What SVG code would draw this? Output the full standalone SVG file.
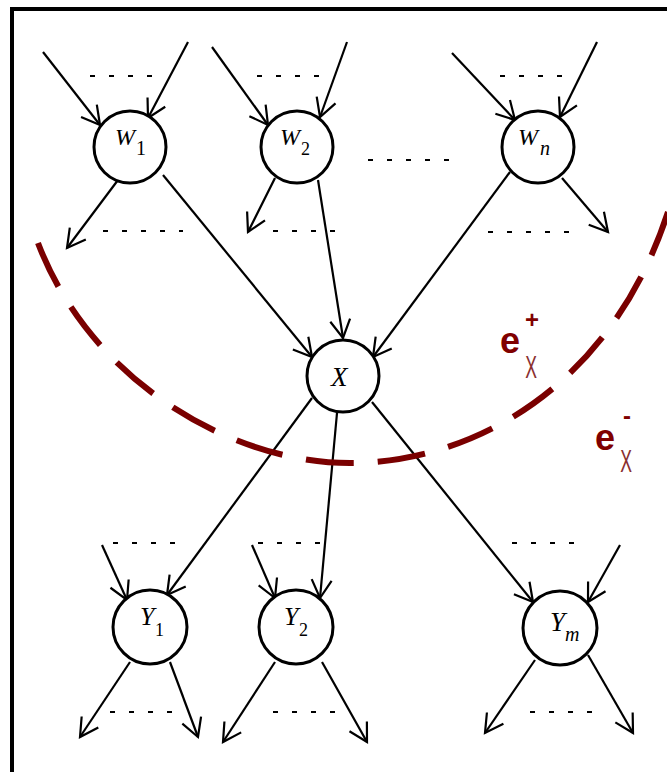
<svg xmlns="http://www.w3.org/2000/svg" width="667" height="772" viewBox="0 0 667 772">
<style>
.node circle{fill:#fff;stroke:#000;stroke-width:3}
.lbl{font-family:"Liberation Serif",serif;font-style:italic;fill:#000}
.sub{font-family:"Liberation Serif",serif;fill:#000}
.edge{stroke:#000;stroke-width:2.2;fill:none;marker-end:url(#arr)}
.dots{stroke:#000;stroke-width:2;stroke-dasharray:5 14;fill:none}
.e{font-family:"Liberation Sans",Arial,sans-serif;font-weight:bold;fill:#800000}
.ex{font-family:"Liberation Sans",Arial,sans-serif;fill:#8a3030}
</style>
<defs>
<marker id="arr" markerUnits="userSpaceOnUse" markerWidth="30" markerHeight="30" viewBox="-22 -15 30 30" refX="0" refY="0" orient="auto">
<path d="M-18,-10 L0,0 L-18,10" fill="none" stroke="#000" stroke-width="2.2"/>
</marker>
</defs>
<rect x="0" y="0" width="667" height="772" fill="#fff"/>
<rect x="12" y="9" width="700" height="800" fill="none" stroke="#000" stroke-width="4"/>
<g id="dotted">
<path class="dots" d="M90,76H155 M103,231H183 M257,76H325 M273,231H340 M368,160H450 M500,76H563 M488,232H570 M113,543H176 M110,712H173 M258,543H322 M273,712H340 M512,543H574 M530,712H593"/>
</g>
<g id="connectors">
<path class="edge" d="M43,52L100,125"/>
<path class="edge" d="M188,42L148,118"/>
<path class="edge" d="M212,47L268,125"/>
<path class="edge" d="M347,42L320,117"/>
<path class="edge" d="M452,53L515,120"/>
<path class="edge" d="M597,42L560,117"/>
<path class="edge" d="M118,180L67,248"/>
<path class="edge" d="M163,175L312,357"/>
<path class="edge" d="M275,178L248,232"/>
<path class="edge" d="M318,180L343,338"/>
<path class="edge" d="M510,172L373,357"/>
<path class="edge" d="M562,178L608,232"/>
<path class="edge" d="M312,398L167,595"/>
<path class="edge" d="M337,413L320,598"/>
<path class="edge" d="M372,402L533,602"/>
<path class="edge" d="M102,545L127,600"/>
<path class="edge" d="M252,545L275,598"/>
<path class="edge" d="M620,545L588,602"/>
<path class="edge" d="M130,662L80,737"/>
<path class="edge" d="M170,662L198,737"/>
<path class="edge" d="M275,662L223,742"/>
<path class="edge" d="M322,662L367,742"/>
<path class="edge" d="M535,660L485,733"/>
<path class="edge" d="M588,655L633,733"/>
</g>
<g id="W1" class="node"><circle cx="130" cy="147" r="36"/><text class="lbl" x="115" y="145" font-size="24">W</text><text class="sub" x="136" y="155" font-size="20">1</text></g>
<g id="W2" class="node"><circle cx="297" cy="147" r="36"/><text class="lbl" x="280" y="145" font-size="24">W</text><text class="sub" x="301" y="155" font-size="18">2</text></g>
<g id="Wn" class="node"><circle cx="538" cy="147" r="36"/><text class="lbl" x="518" y="145" font-size="24">W</text><text class="lbl" x="540" y="155" font-size="20">n</text></g>
<g id="X" class="node"><circle cx="343" cy="376" r="36"/><text class="lbl" x="331" y="386" font-size="27">X</text></g>
<g id="Y1" class="node"><circle cx="150" cy="627" r="37"/><text class="lbl" x="140" y="625" font-size="26">Y</text><text class="sub" x="155" y="636" font-size="18">1</text></g>
<g id="Y2" class="node"><circle cx="296" cy="627" r="37"/><text class="lbl" x="284" y="625" font-size="26">Y</text><text class="sub" x="299" y="636" font-size="18">2</text></g>
<g id="Ym" class="node"><circle cx="560" cy="628" r="37"/><text class="lbl" x="550" y="631" font-size="27">Y</text><text class="lbl" x="565" y="641" font-size="20">m</text></g>
<g id="boundary">
<path d="M38,243 C90,380 230,463 350,463 C470,463 610,390 668,212" fill="none" stroke="#7a0000" stroke-width="6" stroke-dasharray="48 24"/>
<text class="e" x="500" y="353" font-size="36">e</text>
<text class="e" x="532" y="328" font-size="24" text-anchor="middle">+</text>
<text class="ex" transform="translate(531,378) scale(0.55,1)" x="0" y="0" font-size="32" text-anchor="middle">X</text>
<text class="e" x="595" y="450" font-size="36">e</text>
<text class="e" x="627" y="424" font-size="24" text-anchor="middle">-</text>
<text class="ex" transform="translate(626,472) scale(0.55,1)" x="0" y="0" font-size="32" text-anchor="middle">X</text>
</g>
</svg>
